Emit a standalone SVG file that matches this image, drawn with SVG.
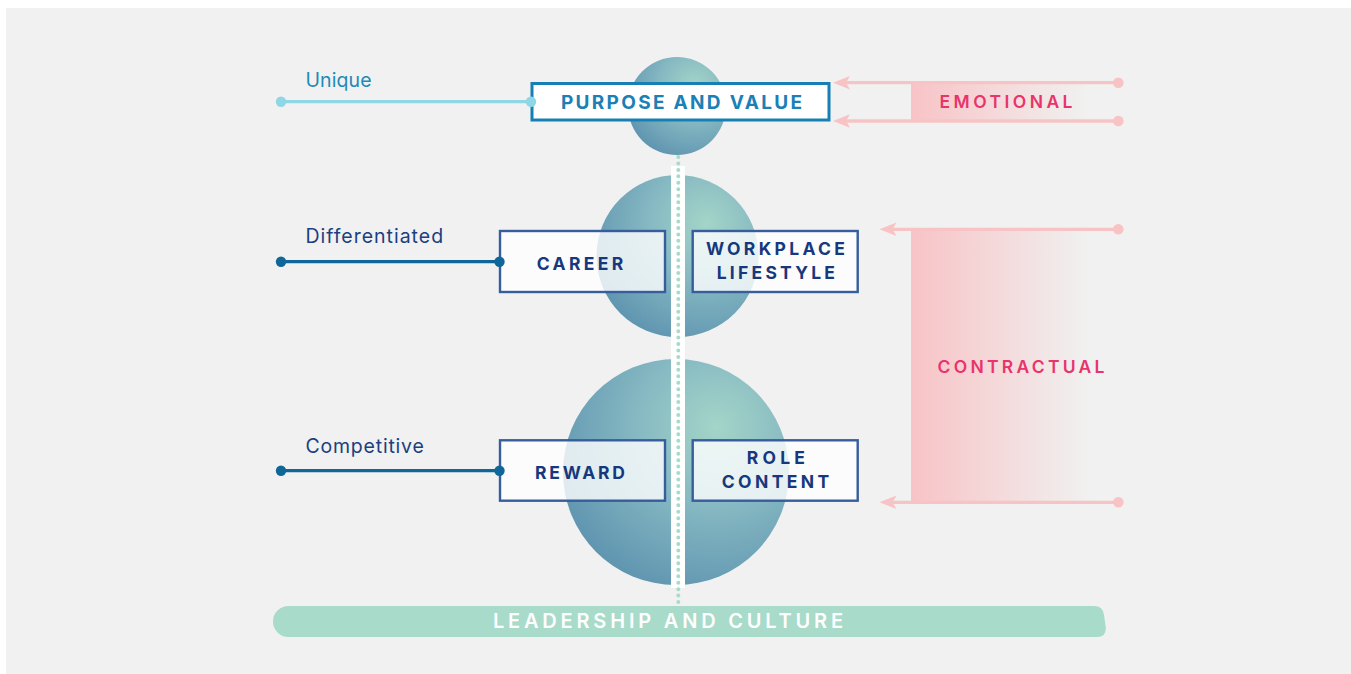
<svg xmlns="http://www.w3.org/2000/svg" width="1351" height="674" viewBox="0 0 1351 674">
  <defs>
    <radialGradient id="sphere" cx="0.68" cy="0.3" r="0.78" fx="0.68" fy="0.3">
      <stop offset="0" stop-color="#a4d5c8"/>
      <stop offset="0.45" stop-color="#86b9c2"/>
      <stop offset="1" stop-color="#5f94b0"/>
    </radialGradient>
    <linearGradient id="pinkFade" x1="0" y1="0" x2="1" y2="0">
      <stop offset="0" stop-color="#f8c3c6" stop-opacity="1"/>
      <stop offset="1" stop-color="#f8c3c6" stop-opacity="0"/>
    </linearGradient>
    <marker id="pinkHead" markerUnits="userSpaceOnUse" markerWidth="40" markerHeight="40" refX="0" refY="0" orient="auto" overflow="visible">
      <path d="M10,0 L-7,-6.8 L-3,0 L-7,6.8 Z" fill="#f8c3c5"/>
    </marker>
  </defs>
  <style>
    .lbl { font-family: Inter, "Liberation Sans", sans-serif; font-size: 19.5px; font-weight: 400; }
    .box { fill: #ffffff; fill-opacity: 0.8; stroke: #375d9c; stroke-width: 2.4; }
    .boxtxt { font-family: Inter, "Liberation Sans", sans-serif; font-size: 17.5px; font-weight: 700; fill: #17387c; }
    .tag { font-family: Inter, "Liberation Sans", sans-serif; font-size: 17.5px; font-weight: 600; fill: #e8346a; }
    .pink { stroke: #f8c3c5; stroke-width: 3.3; fill: none; }
    .pdot { fill: #f8c3c5; }
  </style>

  <!-- panel -->
  <rect x="6" y="8" width="1345" height="666" fill="#f0f1f0"/>

  <!-- spheres -->
  <g id="spheres">
    <circle cx="677" cy="106" r="49" fill="url(#sphere)"/>
    <circle cx="677.5" cy="256" r="81" fill="url(#sphere)"/>
    <circle cx="676" cy="472" r="113" fill="url(#sphere)"/>
    <rect x="671" y="166" width="14" height="422" fill="#ffffff"/>
  </g>

  <!-- pink bands -->
  <g id="emotional">
    <rect x="911" y="83" width="175" height="38" fill="url(#pinkFade)"/>
    <text class="tag" x="939.5" y="108.3" textLength="133">EMOTIONAL</text>
  </g>
  <g id="contractual">
    <rect x="911" y="229" width="178" height="273" fill="url(#pinkFade)"/>
    <text class="tag" x="937.5" y="373.3" textLength="167">CONTRACTUAL</text>
  </g>

  <!-- leadership base -->
  <g id="leadership">
    <path d="M288.5,606 H1094 Q1103,606 1104,615 L1105.8,628 Q1106,637 1097,637 H288.5 A15.5,15.5 0 0 1 288.5,606 Z" fill="#a8dbc9"/>
    <text x="493" y="628" textLength="350" font-family="Inter, 'Liberation Sans', sans-serif" font-size="20px" font-weight="600" fill="#ffffff">LEADERSHIP AND CULTURE</text>
  </g>

  <!-- side labels -->
  <g id="unique">
    <text class="lbl" x="305.5" y="86.7" textLength="66" fill="#2289b9">Unique</text>
  </g>
  <g id="differentiated">
    <text class="lbl" x="305.5" y="242.7" textLength="137.6" fill="#1b3f80">Differentiated</text>
  </g>
  <g id="competitive">
    <text class="lbl" x="305.5" y="452.7" textLength="118.3" fill="#1b3f80">Competitive</text>
  </g>

  <!-- pillar boxes -->
  <g id="purpose">
    <rect x="532" y="83.5" width="297" height="36.5" fill="#ffffff" stroke="#1680b4" stroke-width="3"/>
    <text x="561" y="109.3" textLength="241" font-family="Inter, 'Liberation Sans', sans-serif" font-size="19px" font-weight="700" fill="#1a80b5">PURPOSE AND VALUE</text>
  </g>
  <g id="career">
    <rect class="box" x="500" y="231" width="165" height="61"/>
    <text class="boxtxt" x="536.7" y="270" textLength="86.6">CAREER</text>
  </g>
  <g id="workplace">
    <rect class="box" x="692.7" y="231" width="165" height="61"/>
    <text class="boxtxt" x="706" y="255" textLength="139">WORKPLACE</text>
    <text class="boxtxt" x="716.7" y="279" textLength="118.3">LIFESTYLE</text>
  </g>
  <g id="reward">
    <rect class="box" x="500" y="440.3" width="165" height="60.4"/>
    <text class="boxtxt" x="535" y="479" textLength="90">REWARD</text>
  </g>
  <g id="role-content">
    <rect class="box" x="692.7" y="440.3" width="165" height="60.4"/>
    <text class="boxtxt" x="746.7" y="464.3" textLength="58.3">ROLE</text>
    <text class="boxtxt" x="721.7" y="487.7" textLength="107.6">CONTENT</text>
  </g>

  <!-- connectors, drawn last so the end dots sit on the box borders -->
  <g id="connectors">
    <line x1="678.3" y1="157" x2="678.3" y2="604" stroke="#a8dcc8" stroke-width="4" stroke-linecap="round" stroke-dasharray="0 6.45"/>

    <line x1="281" y1="101.7" x2="531" y2="101.7" stroke="#8fd6e6" stroke-width="3.3"/>
    <circle cx="281" cy="101.7" r="5.2" fill="#8fd6e6"/>
    <circle cx="531" cy="101.7" r="5.2" fill="#8fd6e6"/>

    <line x1="281" y1="261.7" x2="499.5" y2="261.7" stroke="#0f6799" stroke-width="3.3"/>
    <circle cx="281" cy="261.7" r="5.2" fill="#0f6799"/>
    <circle cx="499.5" cy="261.7" r="5.2" fill="#0f6799"/>

    <line x1="281" y1="470.7" x2="499.5" y2="470.7" stroke="#0f6799" stroke-width="3.3"/>
    <circle cx="281" cy="470.7" r="5.2" fill="#0f6799"/>
    <circle cx="499.5" cy="470.7" r="5.2" fill="#0f6799"/>

    <line class="pink" x1="1118.3" y1="82.7" x2="843" y2="82.7" marker-end="url(#pinkHead)"/>
    <circle class="pdot" cx="1118.3" cy="82.7" r="5.3"/>
    <line class="pink" x1="1118.3" y1="121" x2="843" y2="121" marker-end="url(#pinkHead)"/>
    <circle class="pdot" cx="1118.3" cy="121" r="5.3"/>

    <line class="pink" x1="1118.3" y1="229.3" x2="889.5" y2="229.3" marker-end="url(#pinkHead)"/>
    <circle class="pdot" cx="1118.3" cy="229.3" r="5.3"/>
    <line class="pink" x1="1118.3" y1="502.3" x2="889.5" y2="502.3" marker-end="url(#pinkHead)"/>
    <circle class="pdot" cx="1118.3" cy="502.3" r="5.3"/>
  </g>
</svg>
